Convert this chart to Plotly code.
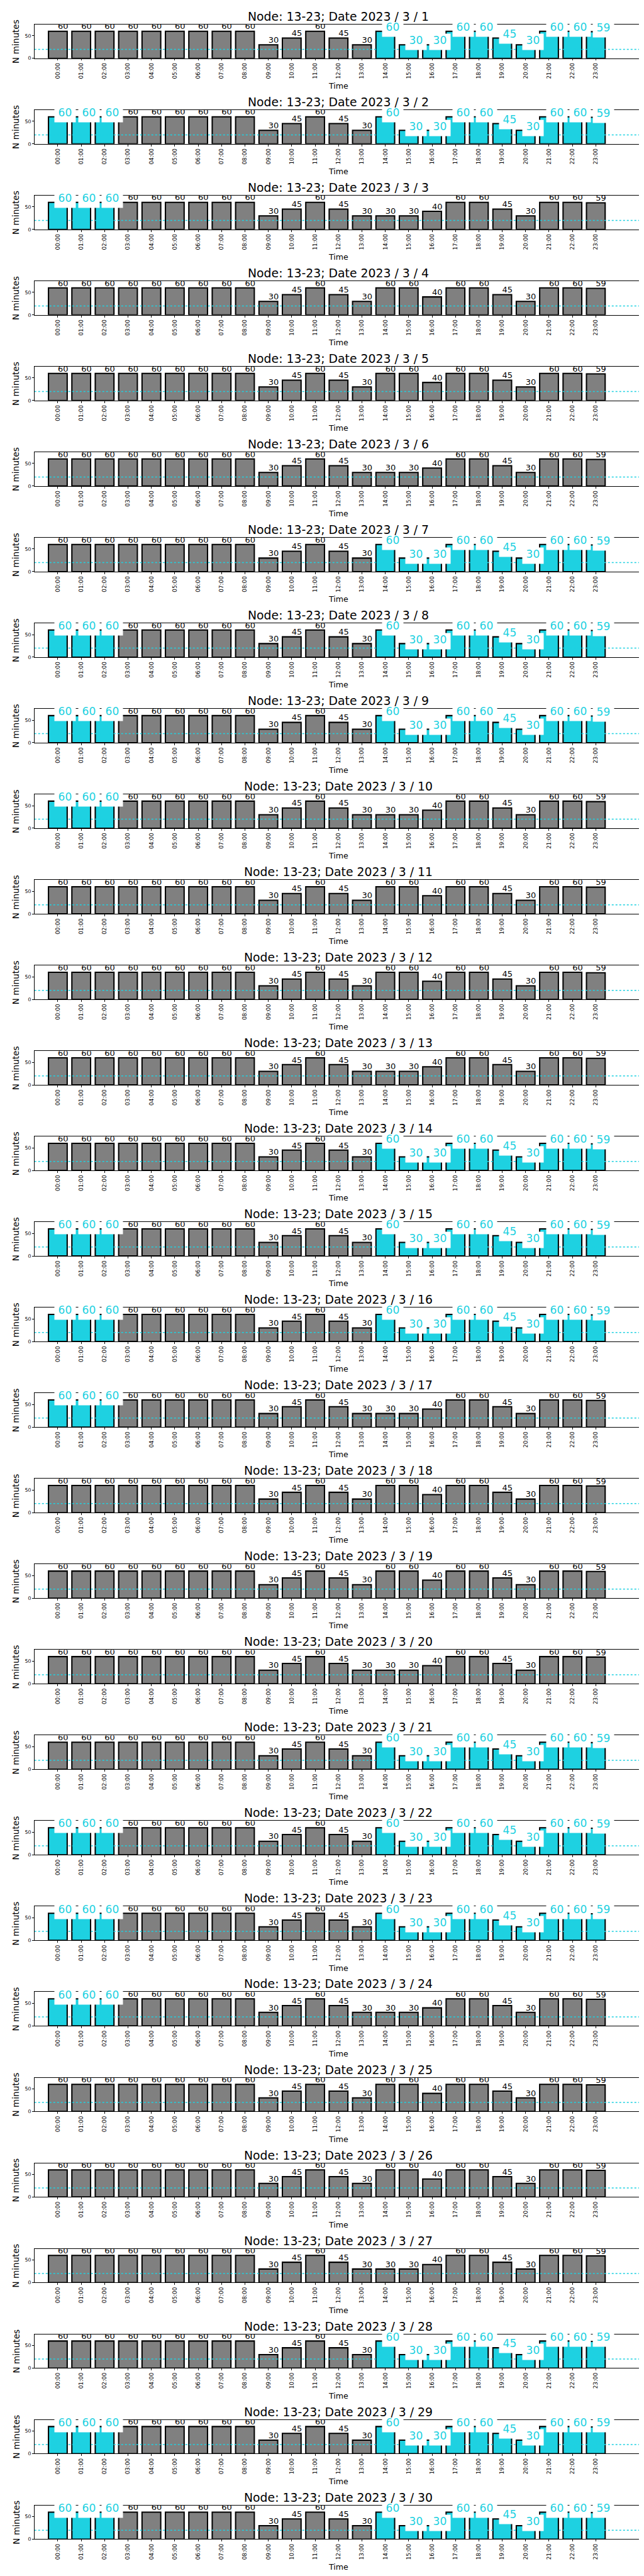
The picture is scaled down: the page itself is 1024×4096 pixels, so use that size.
import plotly.graph_objects as go

# ---------------- data ----------------
hours = ["00:00", "01:00", "02:00", "03:00", "04:00", "05:00", "06:00", "07:00",
         "08:00", "09:00", "10:00", "11:00", "12:00", "13:00", "14:00", "15:00",
         "16:00", "17:00", "18:00", "19:00", "20:00", "21:00", "22:00", "23:00"]

minutes_tue_thu = [60, 60, 60, 60, 60, 60, 60, 60, 60, 30, 45, 60,
                   45, 30, 60, 30, 30, 60, 60, 45, 30, 60, 60, 59]
minutes_fri_mon = [60, 60, 60, 60, 60, 60, 60, 60, 60, 30, 45, 60,
                   45, 30, 30, 30, 40, 60, 60, 45, 30, 60, 60, 59]
minutes_weekend = [60, 60, 60, 60, 60, 60, 60, 60, 60, 30, 45, 60,
                   45, 30, 60, 60, 40, 60, 60, 45, 30, 60, 60, 59]

days = list(range(1, 31))
day_profile = ["A", "A", "B", "C", "C", "B", "A", "A", "A", "B",
               "C", "C", "B", "A", "A", "A", "B", "C", "C", "B",
               "A", "A", "A", "B", "C", "C", "B", "A", "A", "A"]
early_days = [2, 3, 8, 9, 10, 15, 16, 17, 22, 23, 24, 29, 30]
late_days = [1, 2, 7, 8, 9, 14, 15, 16, 21, 22, 23, 28, 29, 30]
early_hours = [0, 1, 2]
late_hours = [14, 15, 16, 17, 18, 19, 20, 21, 22, 23]
threshold = 20

profiles = {"A": minutes_tue_thu, "B": minutes_fri_mon, "C": minutes_weekend}

# ---------------- style ----------------
W, H = 1024, 4096
S = W / 1500.0
FONT = "DejaVu Sans"
CYAN = "#1ed1e1"
GRAY = "#808080"
AX_L, AX_R = 68.5, 1485.0
TOP0, PITCH, AXH = 45.3, 199.5, 79.0

fig = go.Figure()
layout = {}
titles = []

for k, day in enumerate(days):
    vals = profiles[day_profile[k]]
    hl = set()
    if day in early_days:
        hl |= set(early_hours)
    if day in late_days:
        hl |= set(late_hours)
    n = "" if k == 0 else str(k + 1)
    xa, ya = "x" + n, "y" + n
    xs = list(range(len(hours)))
    colors = [CYAN if i in hl else GRAY for i in xs]

    fig.add_trace(go.Bar(
        x=xs, y=vals, width=0.8,
        marker=dict(color=colors, line=dict(color="black", width=3 * S)),
        xaxis=xa, yaxis=ya, showlegend=False, hoverinfo="skip"))

    fig.add_trace(go.Scatter(
        x=[-1, 25], y=[threshold, threshold], mode="lines",
        line=dict(color=CYAN, width=2.2 * S, dash="dot"),
        xaxis=xa, yaxis=ya, showlegend=False, hoverinfo="skip"))

    gi = [i for i in xs if i not in hl]
    fig.add_trace(go.Scatter(
        x=gi, y=[vals[i] for i in gi], text=[str(vals[i]) for i in gi],
        mode="text", textposition="top right",
        textfont=dict(size=19 * S, color="black", family=FONT),
        xaxis=xa, yaxis=ya, showlegend=False, hoverinfo="skip"))

    top = TOP0 + PITCH * k
    bot = top + AXH
    layout["xaxis" + n] = dict(
        domain=[AX_L / 1500, AX_R / 1500], anchor=ya, range=[-1, 25],
        tickmode="array", tickvals=xs, ticktext=hours, tickangle=-90,
        ticks="outside", ticklen=4 * S, tickwidth=1, tickcolor="black",
        tickfont=dict(size=13 * S, family=FONT, color="black"),
        showline=True, mirror=True, linecolor="black", linewidth=1,
        showgrid=False, zeroline=False, fixedrange=True)
    layout["yaxis" + n] = dict(
        domain=[1 - bot / 6000, 1 - top / 6000], anchor=xa, range=[0, 75],
        tickmode="array", tickvals=[0, 50], ticks="outside", ticklen=4 * S,
        tickwidth=1, tickcolor="black",
        tickfont=dict(size=11.5 * S, family=FONT, color="black"),
        showline=True, mirror=True, linecolor="black", linewidth=1,
        showgrid=False, zeroline=False, fixedrange=True)

    # x label
    fig.add_annotation(
        text="Time", showarrow=False,
        xref=xa + " domain", yref=ya + " domain", x=0.5, y=0,
        xanchor="center", yanchor="middle", yshift=-64 * S,
        font=dict(size=18.5 * S, family=FONT, color="black"))
    # y label
    fig.add_annotation(
        text="N minutes", showarrow=False, textangle=-90,
        xref="paper", yref=ya + " domain", x=25 / 1500, y=0.5,
        xanchor="center", yanchor="middle",
        font=dict(size=20 * S, family=FONT, color="black"))

    # highlighted labels with white box
    for i in sorted(hl):
        fig.add_annotation(
            text=str(vals[i]), showarrow=False,
            xref=xa, yref=ya, x=i, y=vals[i],
            xanchor="left", yanchor="bottom",
            xshift=-8 * S, yshift=-13.6 * S,
            width=48 * S, height=36 * S, borderpad=0,
            bgcolor="white", align="center", valign="top",
            font=dict(size=25 * S, family=FONT, color=CYAN))

    titles.append((xa, ya, f"Node: 13-23; Date 2023 / 3 / {day}"))

# titles drawn last so they stay on top
for xa, ya, t in titles:
    fig.add_annotation(
        text=t, showarrow=False,
        xref=xa + " domain", yref=ya + " domain", x=0.5, y=1,
        xanchor="center", yanchor="bottom", yshift=0,
        font=dict(size=27.6 * S, family=FONT, color="black"))

fig.update_layout(
    width=W, height=H, margin=dict(l=0, r=0, t=0, b=0),
    paper_bgcolor="white", plot_bgcolor="white",
    font=dict(family=FONT, color="black"), showlegend=False,
    **layout)

fig.write_html("out.html")
